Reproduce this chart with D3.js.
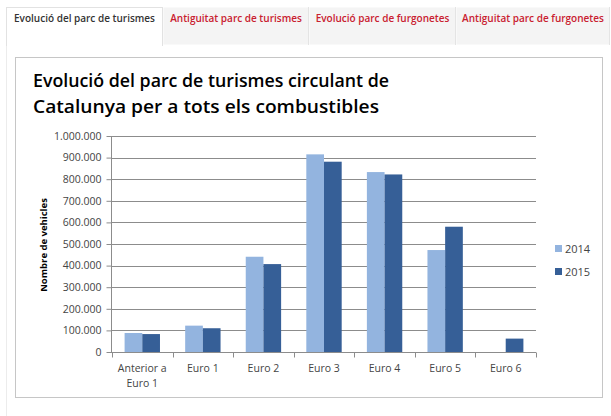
<!DOCTYPE html>
<html>
<head>
<meta charset="utf-8">
<script src="https://cdn.jsdelivr.net/npm/d3@7"></script>
<style>
  html, body { margin: 0; padding: 0; background: #fff; }
  svg { display: block; }
</style>
</head>
<body>
<svg id="chart" width="611" height="416"></svg>
<script>
// tabs on top of the chart panel
const tabs = ["Evolució del parc de turismes", "Antiguitat parc de turismes", "Evolució parc de furgonetes", "Antiguitat parc de furgonetes"];
const tabEdges = [6, 163, 309, 456, 610];

// chart data
const categories = ["Anterior a Euro 1", "Euro 1", "Euro 2", "Euro 3", "Euro 4", "Euro 5", "Euro 6"];
const series = ["2014", "2015"];
const values2014 = [88000, 122000, 441000, 915000, 833000, 472000, 0];
const values2015 = [83000, 110000, 407000, 881000, 822000, 580000, 62000];
const yTicks = [0, 100000, 200000, 300000, 400000, 500000, 600000, 700000, 800000, 900000, 1000000];
const colors = ["#93b4df", "#365f97"];

const svg = d3.select("#chart");

// page frame
svg.append("line").attr("x1", 6.5).attr("x2", 6.5).attr("y1", 7).attr("y2", 416)
    .attr("stroke", "#ececec");

// tabs
const tabG = svg.append("g");
tabs.forEach((t, i) => {
    const x0 = tabEdges[i], x1 = tabEdges[i + 1];
    const active = i === 0;
    tabG.append("rect")
        .attr("x", x0 + 0.5).attr("y", 7.5)
        .attr("width", x1 - x0 - 1).attr("height", active ? 38 : 37)
        .attr("fill", active ? "#fff" : "#f4f4f4")
        .attr("stroke", active ? "#e2e2e2" : "none");
    if (!active) {
        tabG.append("line").attr("x1", x1 - 0.5).attr("x2", x1 - 0.5).attr("y1", 7).attr("y2", 45)
            .attr("stroke", "#e4e4e4");
    }
    tabG.append("text")
        .attr("x", (x0 + x1) / 2).attr("y", 22)
        .attr("text-anchor", "middle")
        .attr("font-family", "'Open Sans', sans-serif")
        .attr("font-size", 10)
        .attr("font-weight", 600)
        .attr("fill", active ? "#333" : "#c9202f")
        .text(t);
});
// cover active tab bottom
tabG.append("rect").attr("x", 7).attr("y", 44).attr("width", 155).attr("height", 3).attr("fill", "#fff");

// chart box
svg.append("rect")
    .attr("x", 15.5).attr("y", 57.5).attr("width", 587).attr("height", 340)
    .attr("fill", "#fff").attr("stroke", "#c6c6c6");

// title
const title = svg.append("text")
    .attr("font-family", "'Open Sans', sans-serif")
    .attr("font-weight", 600)
    .attr("font-size", 18)
    .attr("fill", "#000");
title.append("tspan").attr("x", 33).attr("y", 87).attr("textLength", 356).attr("lengthAdjust", "spacingAndGlyphs")
    .text("Evolució del parc de turismes circulant de");
title.append("tspan").attr("x", 33).attr("y", 113).attr("textLength", 346).attr("lengthAdjust", "spacingAndGlyphs")
    .text("Catalunya per a tots els combustibles");

// plot
const margin = { left: 112, right: 536, top: 136, bottom: 352 };

const x0 = d3.scaleBand().domain(categories).range([margin.left, margin.right]).padding(0);
const gap = x0.bandwidth() * 0.208;
const x1 = d3.scaleBand().domain(series).range([gap, x0.bandwidth() - gap]).padding(0);
const y = d3.scaleLinear().domain([0, 1000000]).range([margin.bottom, margin.top]);

const fmt = d => d3.format(",")(d).replace(/,/g, ".");

// gridlines
svg.append("g")
    .selectAll("line")
    .data(yTicks.filter(d => d > 0))
    .enter().append("line")
    .attr("x1", margin.left).attr("x2", margin.right)
    .attr("y1", d => Math.round(y(d)) + 0.5).attr("y2", d => Math.round(y(d)) + 0.5)
    .attr("stroke", "#8c8c8c");

// bars
const data = categories.map((c, i) => ({ cat: c, vals: [values2014[i], values2015[i]] }));
const groups = svg.append("g")
    .selectAll("g")
    .data(data)
    .enter().append("g")
    .attr("transform", d => `translate(${x0(d.cat)},0)`);
groups.selectAll("rect")
    .data(d => d.vals.map((v, j) => ({ s: series[j], v: v, j: j })))
    .enter().append("rect")
    .filter(d => d.v > 0)
    .attr("x", d => x1(d.s))
    .attr("y", d => y(d.v))
    .attr("width", x1.bandwidth())
    .attr("height", d => y(0) - y(d.v))
    .attr("fill", d => colors[d.j]);

// y axis
const yAxis = svg.append("g")
    .attr("transform", `translate(${margin.left - 0.5},0)`)
    .call(d3.axisLeft(y).tickValues(yTicks).tickFormat(fmt).tickSize(5).tickPadding(5));
yAxis.select(".domain").attr("stroke", "#8c8c8c").attr("d", `M0,${margin.top}V${margin.bottom}`);
yAxis.selectAll(".tick line").attr("stroke", "#8c8c8c");
yAxis.selectAll(".tick text")
    .attr("font-family", "'Open Sans', sans-serif")
    .attr("font-size", 10.5)
    .attr("fill", "#444");

// x axis
const xAxis = svg.append("g")
    .attr("transform", `translate(0,${margin.bottom + 0.5})`);
xAxis.append("line").attr("x1", margin.left - 5).attr("x2", margin.right)
    .attr("stroke", "#8c8c8c");
xAxis.selectAll(".tk")
    .data(categories.map(c => x0(c)).concat([margin.right]))
    .enter().append("line")
    .attr("x1", d => Math.round(d) + 0.5).attr("x2", d => Math.round(d) + 0.5)
    .attr("y1", 0).attr("y2", 5)
    .attr("stroke", "#8c8c8c");
const xl = xAxis.selectAll(".lbl")
    .data(categories)
    .enter().append("text")
    .attr("text-anchor", "middle")
    .attr("font-family", "'Open Sans', sans-serif")
    .attr("font-size", 10.5)
    .attr("fill", "#444");
xl.each(function(c) {
    const cx = x0(c) + x0.bandwidth() / 2;
    const lines = c === "Anterior a Euro 1" ? ["Anterior a", "Euro 1"] : [c];
    lines.forEach((l, k) => {
        d3.select(this).append("tspan").attr("x", cx).attr("y", 19 + k * 15).text(l);
    });
});

// y axis title
svg.append("text")
    .attr("transform", "translate(47,245) rotate(-90)")
    .attr("text-anchor", "middle")
    .attr("font-family", "'Open Sans', sans-serif")
    .attr("font-weight", 700)
    .attr("font-size", 9.5)
    .attr("fill", "#000")
    .text("Nombre de vehicles");

// legend
const legend = svg.append("g")
    .selectAll("g")
    .data(series)
    .enter().append("g")
    .attr("transform", (d, i) => `translate(555,${245 + i * 23})`);
legend.append("rect").attr("width", 7).attr("height", 7).attr("fill", (d, i) => colors[i]);
legend.append("text")
    .attr("x", 10).attr("y", 8)
    .attr("font-family", "'Open Sans', sans-serif")
    .attr("font-size", 11)
    .attr("fill", "#444")
    .text(d => d);
</script>
</body>
</html>
